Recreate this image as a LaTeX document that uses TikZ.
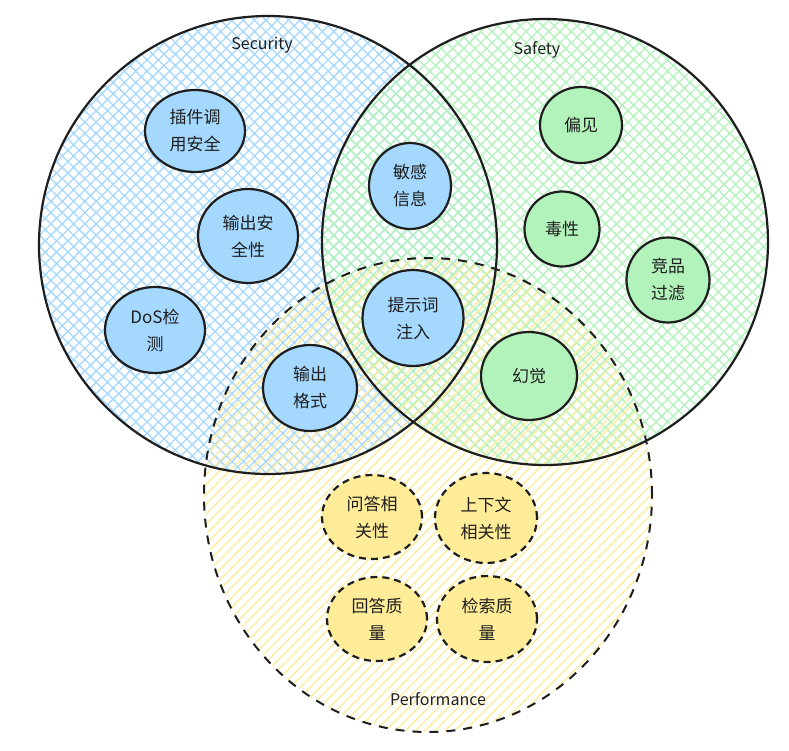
\documentclass[tikz,border=0pt]{standalone}
\usepackage{fontspec}
\setmainfont{Noto Sans CJK SC}
\usetikzlibrary{shapes.geometric,patterns.meta}
\definecolor{sblue}{HTML}{A5D8FF}
\definecolor{sgreen}{HTML}{B2F2BB}
\definecolor{syellow}{HTML}{FFEC99}
\definecolor{ink}{HTML}{1E1E1E}
\tikzset{
  big/.style={circle, draw=ink, line width=2.2pt, inner sep=0pt},
  item/.style={ellipse, draw=ink, line width=2.2pt, inner sep=0pt, align=center, text=ink,
     font=\fontsize{17pt}{27pt}\selectfont},
  bluei/.style={item, fill=sblue},
  greeni/.style={item, fill=sgreen},
  yellowi/.style={item, fill=syellow, dash pattern=on 7pt off 5pt},
  setlabel/.style={text=ink, font=\fontsize{16pt}{18pt}\selectfont}
}
\begin{document}
\begin{tikzpicture}[x=1pt,y=-1pt]
\useasboundingbox[fill=white] (0,0) rectangle (789,750);
% hatching
\path[pattern={Hatch[angle=45,distance=8pt,line width=1.3pt]}, pattern color=sblue] (268,245) circle[radius=229pt];
\path[pattern={Hatch[angle=45,distance=8pt,line width=1.3pt]}, pattern color=sgreen] (545,242) circle[radius=223pt];
\path[pattern={Lines[angle=45,distance=7pt,line width=1.3pt]}, pattern color=syellow] (428,495) ellipse[x radius=224pt, y radius=237pt];
% outlines
\node[big, minimum size=458pt] (sec) at (268,245) {};
\node[big, minimum size=446pt] (saf) at (545,242) {};
\node[ellipse, draw=ink, inner sep=0pt, minimum width=448pt, minimum height=474pt, line width=2pt, dash pattern=on 9pt off 8pt] (perf) at (428,495) {};
% labels
\node[setlabel] (lsec) at (262,45) {Security};
\node[setlabel] (lsaf) at (537,50) {Safety};
\node[setlabel] (lperf) at (438,699) {Performance};
% security items
\node[bluei, minimum width=100pt, minimum height=82pt] (a1) at (195,131) {插件调\\用安全};
\node[bluei, minimum width=100pt, minimum height=94pt] (a2) at (248,236) {输出安\\全性};
\node[bluei, minimum width=100pt, minimum height=86pt] (a3) at (155,330) {DoS检\\测};
\node[bluei, minimum width=94pt, minimum height=86pt] (a4) at (310,388) {输出\\格式};
\node[bluei, minimum width=82pt, minimum height=86pt] (a5) at (410,186) {敏感\\信息};
\node[bluei, minimum width=101pt, minimum height=96pt] (a6) at (413,318) {提示词\\注入};
% safety items
\node[greeni, minimum width=82pt, minimum height=76pt] (b1) at (581,125) {偏见};
\node[greeni, minimum width=75pt, minimum height=75pt] (b2) at (562,229) {毒性};
\node[greeni, minimum width=83pt, minimum height=85pt] (b3) at (668,280) {竞品\\过滤};
\node[greeni, minimum width=96pt, minimum height=88pt] (b4) at (529,376) {幻觉};
% performance items
\node[yellowi, minimum width=100pt, minimum height=84pt] (c1) at (372,517) {问答相\\关性};
\node[yellowi, minimum width=102pt, minimum height=90pt] (c2) at (486,518) {上下文\\相关性};
\node[yellowi, minimum width=100pt, minimum height=84pt] (c3) at (377,619) {回答质\\量};
\node[yellowi, minimum width=100pt, minimum height=86pt] (c4) at (487,619) {检索质\\量};
\end{tikzpicture}
\end{document}
